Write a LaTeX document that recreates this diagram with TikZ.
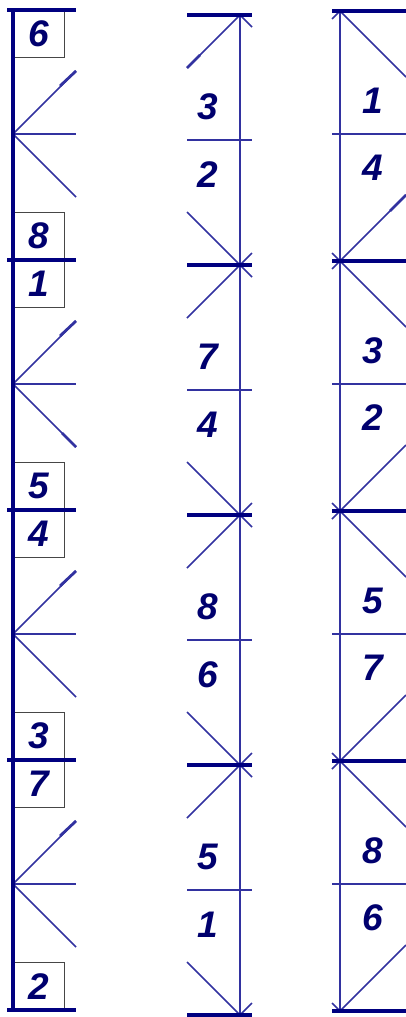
\documentclass[tikz,border=0pt]{standalone}
\usepackage{fontspec}
\setmainfont{Liberation Sans}
\definecolor{navy}{RGB}{0,0,128}
\definecolor{thinblue}{RGB}{50,50,160}
\definecolor{boxgray}{RGB}{70,70,70}
\definecolor{txtblue}{RGB}{0,0,110}
\tikzset{
  chord/.style={draw=navy,line width=4.4pt},
  member/.style={draw=thinblue,line width=1.6pt},
  accent/.style={draw=thinblue,line width=2.8pt},
  tagbox/.style={draw=boxgray,line width=1.3pt,fill=white,minimum width=51pt,minimum height=47pt,inner sep=0pt,anchor=north west,
    font=\fontsize{37}{37}\selectfont\bfseries\itshape,text=txtblue},
  numlabel/.style={font=\fontsize{37}{37}\selectfont\bfseries\itshape,text=txtblue,inner sep=0pt}
}
\begin{document}
\begin{tikzpicture}[x=1pt,y=-1pt]
\useasboundingbox (0,0) rectangle (406,1017);
% ---------------- panel 1 ----------------
\coordinate (p1top) at (13,10);
\coordinate (p1bot) at (13,1010);
\foreach \k/\a/\b in {0/6/8,1/1/5,2/4/3,3/7/2}{
  \pgfmathsetmacro{\t}{10+250*\k}
  \coordinate (p1m\k) at (13,\t+124);
  \coordinate (p1mr\k) at (76,\t+124);
  \coordinate (p1u\k) at (76,\t+124-63);
  \coordinate (p1ua\k) at (60,\t+124-48);
  \coordinate (p1d\k) at (76,\t+124+63);
  \draw[member] (p1m\k) -- (p1mr\k);
  \draw[member] (p1m\k) -- (p1u\k);
  \draw[member] (p1m\k) -- (p1d\k);
  \draw[accent] (p1ua\k) -- (p1u\k);
}
\coordinate (p1da1) at (62,10+250+124+49);
\draw[accent] (p1da1) -- (p1d1);
\foreach \k in {0,1,2,3,4}{
  \pgfmathsetmacro{\t}{10+250*\k}
  \coordinate (p1hl\k) at (7,\t);
  \coordinate (p1hr\k) at (76,\t);
}
\foreach \k/\a/\b in {0/6/8,1/1/5,2/4/3,3/7/2}{
  \pgfmathsetmacro{\t}{10+250*\k}
  \node[tagbox] (p1ta\k) at (13,\t) {\a};
  \node[tagbox] (p1tb\k) at (13,\t+250-48) {\b};
}
\foreach \k in {0,1,2,3,4}{
  \draw[chord] (p1hl\k) -- (p1hr\k);
}
\draw[chord] (p1top) -- (p1bot);
% ---------------- panel 2 ----------------
\coordinate (p2top) at (240,15);
\coordinate (p2bot) at (240,1015);
\draw[member] (p2top) -- (p2bot);
\foreach \k/\a/\b in {0/3/2,1/7/4,2/8/6,3/5/1}{
  \pgfmathsetmacro{\t}{15+250*\k}
  \coordinate (p2j\k) at (240,\t);
  \coordinate (p2jn\k) at (240,\t+250);
  \coordinate (p2ml\k) at (187,\t+125);
  \coordinate (p2mr\k) at (252,\t+125);
  \coordinate (p2ul\k) at (187,\t+53);
  \coordinate (p2ur\k) at (252,\t+12);
  \coordinate (p2dl\k) at (187,\t+250-53);
  \coordinate (p2dr\k) at (252,\t+250-12);
  \draw[member] (p2ml\k) -- (p2mr\k);
  \draw[member] (p2j\k) -- (p2ul\k);
  \draw[member] (p2j\k) -- (p2ur\k);
  \draw[member] (p2jn\k) -- (p2dl\k);
  \draw[member] (p2jn\k) -- (p2dr\k);
  \node[numlabel] (p2a\k) at (208,\t+125-33) {\a};
  \node[numlabel] (p2b\k) at (208,\t+125+35) {\b};
}
\coordinate (p2ua0) at (200,15+40);
\draw[accent] (p2ua0) -- (p2ul0);
\foreach \k in {0,1,2,3,4}{
  \pgfmathsetmacro{\t}{15+250*\k}
  \coordinate (p2hl\k) at (187,\t);
  \coordinate (p2hr\k) at (252,\t);
  \draw[chord] (p2hl\k) -- (p2hr\k);
}
% ---------------- panel 3 ----------------
\coordinate (p3top) at (340,11);
\coordinate (p3bot) at (340,1011);
\draw[member] (p3top) -- (p3bot);
\foreach \k/\a/\b in {0/1/4,1/3/2,2/5/7,3/8/6}{
  \pgfmathsetmacro{\t}{11+250*\k}
  \coordinate (p3j\k) at (340,\t);
  \coordinate (p3jn\k) at (340,\t+250);
  \coordinate (p3ml\k) at (332,\t+123);
  \coordinate (p3mr\k) at (406,\t+123);
  \coordinate (p3ur\k) at (406,\t+66);
  \coordinate (p3ul\k) at (332,\t+8);
  \coordinate (p3dr\k) at (406,\t+250-66);
  \coordinate (p3dl\k) at (332,\t+250-8);
  \draw[member] (p3ml\k) -- (p3mr\k);
  \draw[member] (p3j\k) -- (p3ur\k);
  \draw[member] (p3j\k) -- (p3ul\k);
  \draw[member] (p3jn\k) -- (p3dr\k);
  \draw[member] (p3jn\k) -- (p3dl\k);
  \node[numlabel] (p3a\k) at (373,\t+123-33) {\a};
  \node[numlabel] (p3b\k) at (373,\t+123+34) {\b};
}
\coordinate (p3da0) at (390,11+250-50);
\draw[accent] (p3da0) -- (p3dr0);
\foreach \k in {0,1,2,3,4}{
  \pgfmathsetmacro{\t}{11+250*\k}
  \coordinate (p3hl\k) at (332,\t);
  \coordinate (p3hr\k) at (406,\t);
  \draw[chord] (p3hl\k) -- (p3hr\k);
}
\end{tikzpicture}
\end{document}
